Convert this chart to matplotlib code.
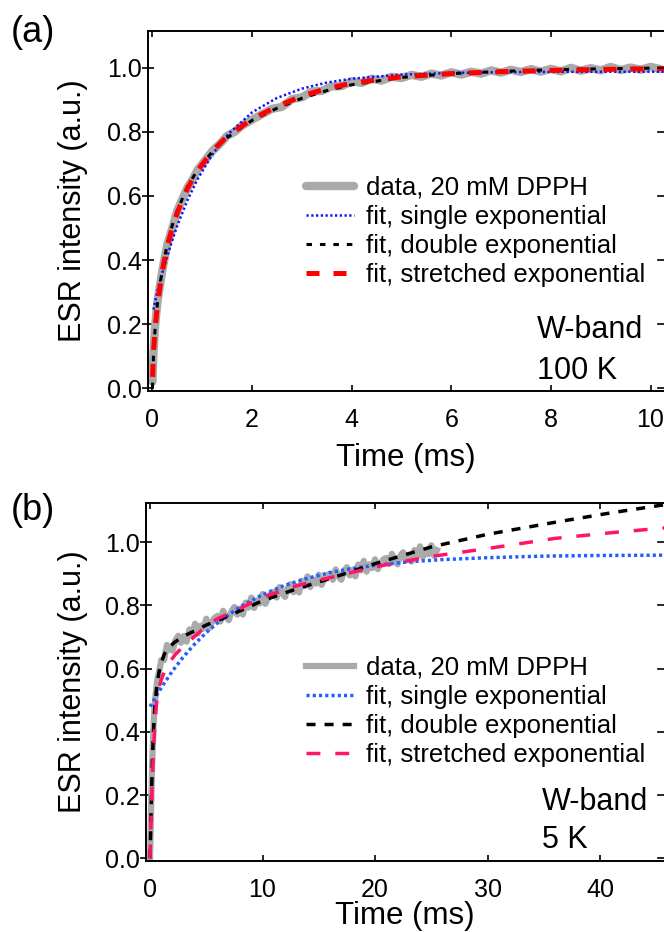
import matplotlib
matplotlib.use('Agg')
import matplotlib.pyplot as plt

plt.rcParams['font.family'] = ['Liberation Sans', 'DejaVu Sans']

W, H = 664, 932

# ---------------- panel (a): W-band, 100 K ----------------
t_data_a = [0.0, 0.02, 0.05, 0.1, 0.15, 0.2, 0.3, 0.4, 0.5, 0.6, 0.7, 0.8, 0.9, 1.0,
            1.1, 1.2, 1.35, 1.5, 1.65, 1.8, 2.0, 2.2, 2.4, 2.6, 2.8, 3.0, 3.2, 3.4,
            3.6, 3.8, 4.0, 4.2, 4.4, 4.6, 4.8, 5.0, 5.2, 5.4, 5.6, 5.8, 6.0, 6.2,
            6.4, 6.6, 6.8, 7.0, 7.2, 7.4, 7.6, 7.8, 8.0, 8.2, 8.4, 8.6, 8.8, 9.0,
            9.2, 9.4, 9.6, 9.8, 10.0, 10.2]
y_data_a = [0.02, 0.11, 0.19, 0.27, 0.32, 0.37, 0.45, 0.50, 0.555, 0.59, 0.625, 0.65,
            0.68, 0.70, 0.72, 0.74, 0.762, 0.788, 0.80, 0.82, 0.838, 0.855, 0.872,
            0.878, 0.902, 0.908, 0.926, 0.928, 0.942, 0.943, 0.958, 0.953, 0.966,
            0.960, 0.972, 0.968, 0.978, 0.972, 0.982, 0.976, 0.986, 0.979, 0.988,
            0.982, 0.992, 0.985, 0.994, 0.987, 0.996, 0.988, 0.997, 0.989, 1.000,
            0.991, 0.999, 0.992, 1.003, 0.993, 1.001, 0.994, 1.003, 0.996]

t_single_a = [0.02, 0.1, 0.2, 0.3, 0.4, 0.5, 0.7, 0.9, 1.2, 1.5, 2.0, 2.5, 3.0, 3.5,
              4.0, 5.0, 6.0, 7.0, 8.0, 10.0, 10.3]
y_single_a = [0.245, 0.304, 0.361, 0.414, 0.463, 0.508, 0.586, 0.651, 0.729, 0.790,
              0.861, 0.906, 0.935, 0.954, 0.966, 0.979, 0.984, 0.9865, 0.9874, 0.988,
              0.988]

t_double_a = [0.0, 0.02, 0.05, 0.1, 0.2, 0.3, 0.4, 0.5, 0.7, 0.9, 1.2, 1.5, 2.0, 2.5,
              3.0, 3.5, 4.0, 5.0, 6.0, 7.0, 8.0, 9.0, 10.0, 10.3]
y_double_a = [0.0, 0.10, 0.18, 0.265, 0.375, 0.452, 0.51, 0.555, 0.628, 0.68, 0.738,
              0.782, 0.836, 0.874, 0.905, 0.929, 0.947, 0.97, 0.982, 0.989, 0.994,
              0.997, 0.999, 0.999]

t_stretch_a = [0.003, 0.01, 0.02, 0.05, 0.1, 0.2, 0.3, 0.4, 0.5, 0.7, 0.9, 1.2, 1.5,
               2.0, 2.5, 3.0, 3.5, 4.0, 5.0, 6.0, 7.0, 8.0, 9.0, 10.0, 10.3]
y_stretch_a = [0.035, 0.07, 0.109, 0.181, 0.262, 0.369, 0.444, 0.502, 0.549, 0.623,
               0.678, 0.740, 0.786, 0.840, 0.879, 0.912, 0.935, 0.952, 0.972, 0.982,
               0.988, 0.992, 0.995, 0.997, 0.998]

# ---------------- panel (b): W-band, 5 K ----------------
t_data_b = [0.0, 0.1, 0.2, 0.3, 0.4, 0.5, 0.65, 0.8,
            1.0, 1.25, 1.5, 1.75, 2.0, 2.25, 2.5, 2.75, 3.0, 3.25, 3.5, 3.75,
            4.0, 4.25, 4.5, 4.75, 5.0, 5.25, 5.5, 5.75, 6.0, 6.25, 6.5, 6.75,
            7.0, 7.25, 7.5, 7.75, 8.0, 8.25, 8.5, 8.75, 9.0, 9.25, 9.5, 9.75,
            10.0, 10.25, 10.5, 10.75, 11.0, 11.25, 11.5, 11.75, 12.0, 12.25, 12.5,
            12.75, 13.0, 13.25, 13.5, 13.75, 14.0, 14.25, 14.5, 14.75, 15.0, 15.25,
            15.5, 15.75, 16.0, 16.25, 16.5, 16.75, 17.0, 17.25, 17.5, 17.75, 18.0,
            18.25, 18.5, 18.75, 19.0, 19.25, 19.5, 19.75, 20.0, 20.25, 20.5, 20.75,
            21.0, 21.25, 21.5, 21.75, 22.0, 22.25, 22.5, 22.75, 23.0, 23.25, 23.5,
            23.75, 24.0, 24.25, 24.5, 24.75, 25.0, 25.25, 25.5]
y_data_b = [0.0, 0.17, 0.31, 0.41, 0.48, 0.52, 0.565, 0.59,
            0.627, 0.627, 0.675, 0.661, 0.657, 0.689, 0.704, 0.682, 0.703, 0.685,
            0.724, 0.709, 0.742, 0.711, 0.736, 0.727, 0.758, 0.728, 0.748, 0.761,
            0.767, 0.749, 0.783, 0.763, 0.753, 0.783, 0.795, 0.771, 0.790, 0.771,
            0.809, 0.793, 0.825, 0.792, 0.816, 0.806, 0.836, 0.805, 0.825, 0.838,
            0.843, 0.825, 0.858, 0.838, 0.827, 0.856, 0.867, 0.842, 0.861, 0.841,
            0.878, 0.861, 0.892, 0.858, 0.881, 0.869, 0.897, 0.865, 0.884, 0.896,
            0.900, 0.881, 0.914, 0.892, 0.881, 0.910, 0.921, 0.895, 0.913, 0.892,
            0.929, 0.911, 0.941, 0.907, 0.930, 0.918, 0.946, 0.915, 0.933, 0.946,
            0.950, 0.931, 0.963, 0.942, 0.930, 0.958, 0.968, 0.942, 0.960, 0.939,
            0.975, 0.957, 0.987, 0.953, 0.974, 0.962, 0.990, 0.957, 0.975]

t_single_b = [0, 1, 2, 3, 4, 5, 6, 8, 10, 12, 14, 16, 18, 20, 23, 26, 30, 35, 40, 46]
y_single_b = [0.480, 0.540, 0.593, 0.639, 0.679, 0.714, 0.745, 0.796, 0.834, 0.864,
              0.886, 0.904, 0.917, 0.927, 0.938, 0.945, 0.951, 0.956, 0.958, 0.959]

t_fit_b = [0, 0.1, 0.2, 0.3, 0.45, 0.6, 0.8, 1.0, 1.3, 1.7, 2.2, 3, 4, 5, 6, 8, 10,
           13, 16, 20, 25, 30, 36, 41, 46]
y_double_b = [0.0, 0.16, 0.30, 0.40, 0.49, 0.545, 0.59, 0.62, 0.648, 0.668, 0.684,
              0.703, 0.72, 0.738, 0.752, 0.783, 0.815, 0.852, 0.885, 0.932, 0.985,
              1.025, 1.063, 1.093, 1.12]
y_stretch_b = [0.0, 0.13, 0.25, 0.333, 0.44, 0.50, 0.54, 0.565, 0.592, 0.618, 0.643,
               0.672, 0.703, 0.735, 0.758, 0.79, 0.826, 0.862, 0.888, 0.922, 0.955,
               0.98, 1.012, 1.03, 1.046]

labels = ['data, 20 mM DPPH', 'fit, single exponential',
          'fit, double exponential', 'fit, stretched exponential']
yticks = [0.0, 0.2, 0.4, 0.6, 0.8, 1.0]


def fx(x):
    return x / W


def fy(y):
    return 1 - y / H


def style_axes(ax, left_px, height_px, xlabel_gap):
    for s in ['top', 'bottom', 'left']:
        ax.spines[s].set_linewidth(1.4)
    ax.spines['right'].set_visible(False)
    ax.tick_params(axis='x', which='both', direction='in', length=4.5, width=1.2,
                   top=True, labelsize=18, pad=12)
    ax.tick_params(axis='y', which='both', direction='inout', length=8.5, width=1.2,
                   right=False, labelsize=18, pad=0)
    ax.set_yticks(yticks)
    ax.set_yticklabels([f'{v:.1f}' for v in yticks])
    ax.set_ylabel('ESR intensity (a.u.)', fontsize=22)
    ax.yaxis.set_label_coords((88 - left_px) / (W - left_px), 0.5)
    ax.set_xlabel('Time (ms)', fontsize=22.5)
    ax.xaxis.set_label_coords(0.5, -xlabel_gap / height_px)
    # right-hand ticks without a visible spine
    for v in yticks:
        ax.plot([1.0, 0.988], [v, v], color='black', lw=1.2,
                transform=ax.get_yaxis_transform(), clip_on=False)


fig = plt.figure(figsize=(W / 100, H / 100), dpi=100)

legend_kw = dict(frameon=False, fontsize=18.5, handlelength=1.85, handletextpad=0.5,
                 labelspacing=0.2, borderpad=0, borderaxespad=0,
                 bbox_transform=fig.transFigure, loc='upper left')

############################ panel (a) ############################
ax = fig.add_axes([fx(148), fy(391), fx(W - 148), (391 - 31) / H])
ax.plot(t_data_a, y_data_a, color='#aaaaaa', lw=6, solid_capstyle='round',
        label=labels[0])
ax.plot(t_single_a, y_single_a, color='#1010ff', lw=1.8, dashes=(0.9, 1.0),
        label=labels[1])
ax.plot(t_double_a, y_double_a, color='black', lw=2.2, dashes=(1.8, 2.6),
        label=labels[2])
ax.plot(t_stretch_a, y_stretch_a, color='#ff0000', lw=3.6, dashes=(2.6, 2.8),
        label=labels[3])
ax.set_xlim(-0.09, 10.27)
ax.set_ylim(-0.009, 1.115)
ax.set_xticks([0, 2, 4, 6, 8, 10])
style_axes(ax, 148, 360, 52)
ax.legend(bbox_to_anchor=(fx(306), fy(176)), **legend_kw)
fig.text(fx(537), fy(338), 'W-band', fontsize=22, va='baseline')
fig.text(fx(537), fy(379), '100 K', fontsize=22, va='baseline')
fig.text(fx(33), fy(33), '(a)', fontsize=26, ha='center', va='center')

############################ panel (b) ############################
ax = fig.add_axes([fx(146), fy(861), fx(W - 146), (861 - 503) / H])
ax.plot(t_data_b, y_data_b, color='#aaaaaa', lw=4.5, label=labels[0])
ax.plot(t_single_b, y_single_b, color='#2060ff', lw=2.5, dashes=(0.9, 0.9),
        label=labels[1])
ax.plot(t_fit_b, y_double_b, color='black', lw=2.5, dashes=(2.6, 2.6),
        label=labels[2])
ax.plot(t_fit_b, y_stretch_b, color='#ff1469', lw=2.5, dashes=(4.0, 4.3),
        label=labels[3])
ax.set_xlim(-0.36, 45.69)
ax.set_ylim(-0.0085, 1.124)
ax.set_xticks([0, 10, 20, 30, 40])
style_axes(ax, 146, 358, 40)
ax.legend(bbox_to_anchor=(fx(306), fy(656)), **legend_kw)
fig.text(fx(542), fy(810), 'W-band', fontsize=22, va='baseline')
fig.text(fx(542), fy(848), '5 K', fontsize=22, va='baseline')
fig.text(fx(33), fy(510), '(b)', fontsize=26, ha='center', va='center')

fig.savefig('out.png', dpi=100)
